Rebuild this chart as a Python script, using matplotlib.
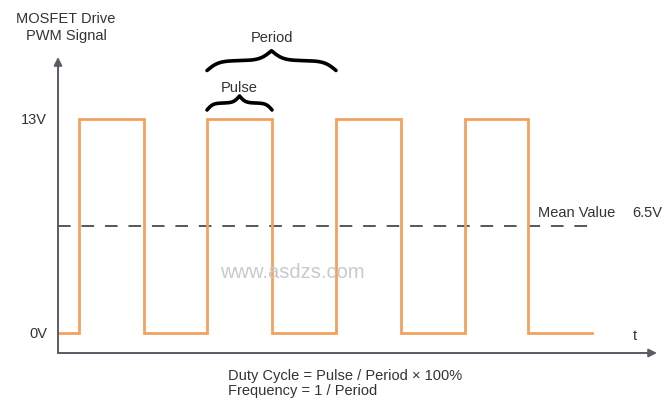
import numpy as np
import matplotlib
matplotlib.use("Agg")
import matplotlib.pyplot as plt

# ---- data (time in arbitrary units, voltage in V) ----
rise_times = [21, 149, 278, 407]
fall_times = [86, 214, 343, 470]
t_start = 0
t_end = 534
v_low = 0.0
v_high = 13.0
v_mean = 6.5
y_tick_values = [0, 13]
y_tick_labels = ["0V", "13V"]

plt.rcParams['font.family'] = ['Liberation Sans', 'DejaVu Sans']

W, H = 666, 414
fig = plt.figure(figsize=(W / 100, H / 100), dpi=100)
fig.patch.set_facecolor("white")

def fx(px):
    return px / W

def fy(py):
    return 1 - py / H

# axes area in pixels
ax_l, ax_r, ax_t, ax_b = 58, 657, 58, 354
ax = fig.add_axes([fx(ax_l), fy(ax_b), (ax_r - ax_l) / W, (ax_b - ax_t) / H])
ax.set_xlim(0, 599)
ax.set_ylim(-1.215, 16.77)
for s in ax.spines.values():
    s.set_visible(False)
ax.set_xticks([])
ax.set_yticks([])
ax.patch.set_alpha(0)

# build the square wave
ts = [t_start]
vs = [v_low]
for r, f in zip(rise_times, fall_times):
    ts += [r, r, f, f]
    vs += [v_low, v_high, v_high, v_low]
ts.append(t_end)
vs.append(v_low)
ax.plot(ts, vs, color="#F2A25E", lw=2.0, solid_joinstyle="miter", zorder=3)

# mean dashed line
ax.plot([t_start, t_end], [v_mean, v_mean], color="#4a4a4a", lw=1.3,
        dashes=(7, 6), zorder=2)

# axes arrows
axis_col = "#5a5a66"
ax.annotate("", xy=(0, 1.0), xytext=(0, 0), xycoords="axes fraction",
            arrowprops=dict(arrowstyle="-|>", color=axis_col, lw=1.4,
                            mutation_scale=12, shrinkA=0, shrinkB=0))
ax.annotate("", xy=(1.0, 0), xytext=(0, 0), xycoords="axes fraction",
            arrowprops=dict(arrowstyle="-|>", color=axis_col, lw=1.4,
                            mutation_scale=12, shrinkA=0, shrinkB=0))

txt_col = "#333333"
fs = 10.5
for v, lab in zip(y_tick_values, y_tick_labels):
    ax.text(-11, v, lab, ha="right", va="center", fontsize=fs, color=txt_col)

ax.text(480, v_mean + 0.85, "Mean Value", ha="left", va="center",
        fontsize=fs, color=txt_col)
ax.text(574, v_mean + 0.85, "6.5V", ha="left", va="center",
        fontsize=fs, color=txt_col)
ax.text(577, v_low - 0.1, "t", ha="center", va="center", fontsize=fs,
        color=txt_col)

# curly braces
def brace(ax, x0, x1, y, h, lw=2.6):
    n = 401
    x = np.linspace(x0, x1, n)
    beta = 22.0 / (x1 - x0)
    xh = x[: n // 2 + 1]
    yh = (1 / (1 + np.exp(-beta * (xh - xh[0]))) +
          1 / (1 + np.exp(-beta * (xh - xh[-1]))))
    yy = np.concatenate((yh, yh[-2::-1]))
    ax.plot(x, y + (yy - 0.5) * h, color="black", lw=lw,
            solid_capstyle="round", clip_on=False)

brace(ax, rise_times[1], fall_times[1], 13.55, 0.85)
brace(ax, rise_times[1], rise_times[2], 15.95, 1.2)
ax.text((rise_times[1] + fall_times[1]) / 2, 14.95, "Pulse", ha="center",
        va="center", fontsize=fs, color=txt_col, clip_on=False)
ax.text((rise_times[1] + rise_times[2]) / 2, 18.0, "Period", ha="center",
        va="center", fontsize=fs, color=txt_col, clip_on=False)

# title label
fig.text(fx(66), fy(19), "MOSFET Drive", ha="center", va="center",
         fontsize=fs, color=txt_col)
fig.text(fx(66), fy(36), "PWM Signal", ha="center", va="center",
         fontsize=fs, color=txt_col)

# watermark
fig.text(fx(292), fy(272), "www.asdzs.com", ha="center", va="center",
         fontsize=14.5, color="#c9c9d2")

# formulas
fig.text(fx(228), fy(376), "Duty Cycle = Pulse / Period \u00d7 100%",
         ha="left", va="center", fontsize=fs, color=txt_col)
fig.text(fx(228), fy(391), "Frequency = 1 / Period",
         ha="left", va="center", fontsize=fs, color=txt_col)

fig.savefig("out.png", dpi=100, facecolor="white")
